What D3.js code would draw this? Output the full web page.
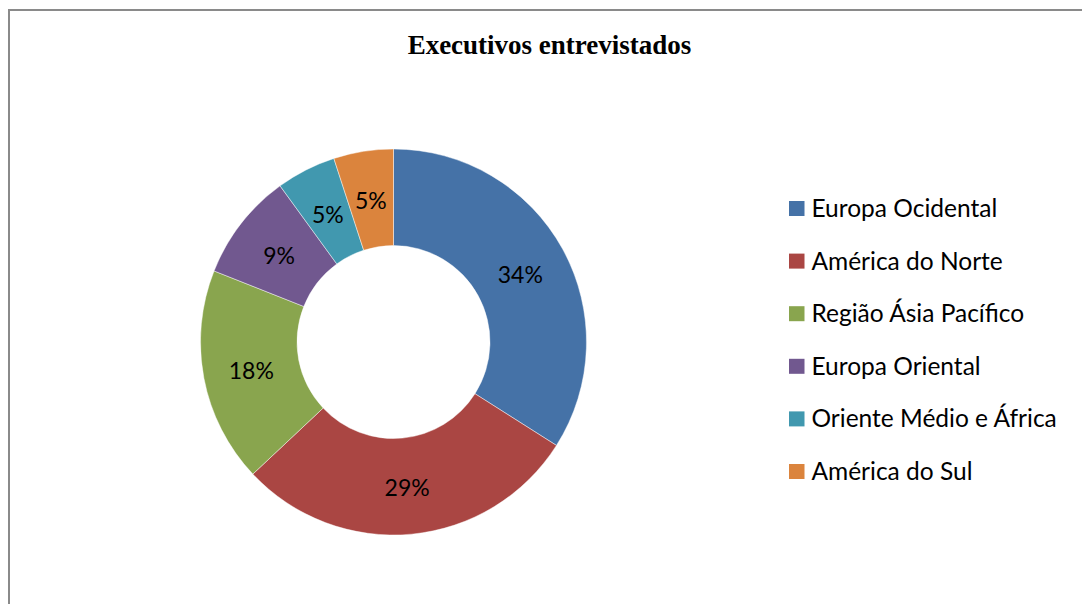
<!DOCTYPE html>
<html>
<head>
<meta charset="utf-8">
<script src="https://cdn.jsdelivr.net/npm/d3@7"></script>
<style>
  html, body { margin: 0; padding: 0; background: #fff; }
  svg { display: block; }
</style>
</head>
<body>
<svg id="chart" width="1082" height="604"></svg>
<script>
// Regions of the interviewed executives and their share (%)
const regions = ["Europa Ocidental", "América do Norte", "Região Ásia Pacífico",
                 "Europa Oriental", "Oriente Médio e África", "América do Sul"];
const shares = [34, 29, 18, 9, 5, 5];
const palette = ["#4572A7", "#AA4643", "#89A54E", "#71588F", "#4198AF", "#DB843D"];
const chartTitle = "Executivos entrevistados";

const svg = d3.select("#chart");
const W = 1082, H = 604;

// outer frame
svg.append("rect")
  .attr("x", 9).attr("y", 10)
  .attr("width", W + 20).attr("height", H + 20)
  .attr("fill", "#fff")
  .attr("stroke", "#8a8a8a")
  .attr("stroke-width", 2);

// title
svg.append("text")
  .attr("x", 549.5).attr("y", 54)
  .attr("text-anchor", "middle")
  .attr("font-family", "'Liberation Serif', 'Times New Roman', serif")
  .attr("font-weight", "bold")
  .attr("font-size", 27)
  .attr("fill", "#000")
  .text(chartTitle);

const cx = 393.5, cy = 342;
const outerR = 193, innerR = 96.5;

const color = d3.scaleOrdinal().domain(regions).range(palette);
const data = regions.map((r, i) => ({ region: r, value: shares[i] }));

const pie = d3.pie().value(d => d.value).sort(null);
const arc = d3.arc().innerRadius(innerR).outerRadius(outerR);

const g = svg.append("g").attr("transform", `translate(${cx},${cy})`);
const arcs = pie(data);

g.selectAll("path.slice")
  .data(arcs)
  .join("path")
  .attr("class", "slice")
  .attr("d", arc)
  .attr("fill", d => color(d.data.region))
  .attr("stroke", "#ffffff")
  .attr("stroke-opacity", 0.6)
  .attr("stroke-width", 0.75);

const labelFont = "Lato, 'Open Sans', sans-serif";

g.selectAll("text.pct")
  .data(arcs)
  .join("text")
  .attr("class", "pct")
  .attr("transform", d => `translate(${arc.centroid(d)})`)
  .attr("text-anchor", "middle")
  .attr("dy", "0.45em")
  .attr("font-family", labelFont)
  .attr("font-size", 23)
  .attr("fill", "#000")
  .text(d => d.data.value + "%");

// legend
const legY = d3.scalePoint().domain(regions).range([208.5, 471.5]);
const leg = svg.append("g");
const items = leg.selectAll("g.item")
  .data(regions)
  .join("g")
  .attr("class", "item")
  .attr("transform", d => `translate(789,${legY(d)})`);

items.append("rect")
  .attr("x", 0).attr("y", -7.5)
  .attr("width", 15.5).attr("height", 15)
  .attr("fill", d => color(d));

items.append("text")
  .attr("x", 22.5)
  .attr("y", 0)
  .attr("dy", "0.35em")
  .attr("font-family", labelFont)
  .attr("font-size", 24.5)
  .attr("fill", "#000")
  .text(d => d);
</script>
</body>
</html>
